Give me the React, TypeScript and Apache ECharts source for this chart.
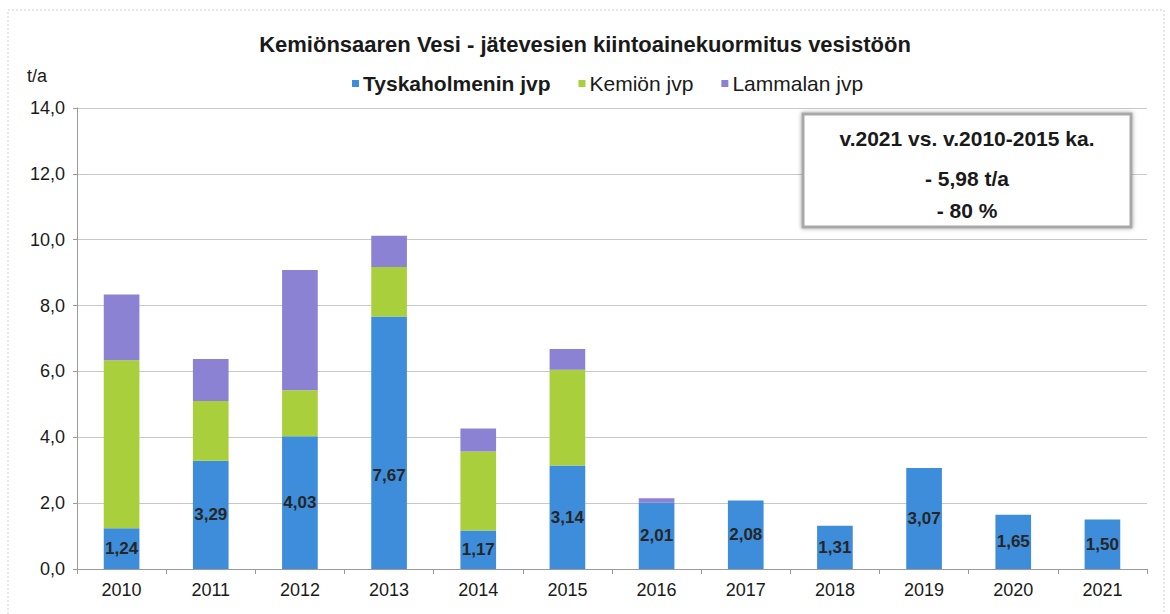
import React, { useEffect, useRef } from "react";
import * as echarts from "echarts";

const years = ["2010", "2011", "2012", "2013", "2014", "2015", "2016", "2017", "2018", "2019", "2020", "2021"];
const tyskaholmen = [1.24, 3.29, 4.03, 7.67, 1.17, 3.14, 2.01, 2.08, 1.31, 3.07, 1.65, 1.5];
const kemio = [5.1, 1.81, 1.4, 1.5, 2.4, 2.91, 0, 0, 0, 0, 0, 0];
const lammala = [2.0, 1.28, 3.65, 0.95, 0.7, 0.63, 0.14, 0, 0, 0, 0, 0];
const seriesNames = ["Tyskaholmenin jvp", "Kemiön jvp", "Lammalan jvp"];
const titleText = "Kemiönsaaren Vesi - jätevesien kiintoainekuormitus vesistöön";
const unitText = "t/a";
const boxLines = ["v.2021 vs. v.2010-2015 ka.", "- 5,98 t/a", "- 80 %"];

const FONT = "'Liberation Sans', Arial, sans-serif";
const fmt = (v: number) => v.toFixed(2).replace(".", ",");

export default function App() {
  const ref = useRef<HTMLDivElement>(null);
  useEffect(() => {
    if (!ref.current) return;
    const chart = echarts.init(ref.current, null, { renderer: "svg" });
    const labelBase = {
      show: true,
      position: "inside" as const,
      color: "#262626",
      fontWeight: "bold" as const,
      fontSize: 17,
      fontFamily: FONT,
      formatter: (p: any) => fmt(p.value),
    };
    chart.setOption({
      animation: false,
      backgroundColor: "#ffffff",
      title: {
        text: titleText,
        left: "center",
        top: 28,
        textStyle: { fontFamily: FONT, fontSize: 22, fontWeight: "bold", color: "#1a1a1a" },
      },
      legend: {
        top: 68,
        left: 347,
        itemWidth: 7,
        itemHeight: 7,
        itemGap: 28,
        icon: "rect",
        textStyle: { fontFamily: FONT, fontSize: 21, color: "#1a1a1a", padding: [0, 0, 0, -1] },
        data: [
          { name: seriesNames[0], textStyle: { fontWeight: "bold" } },
          { name: seriesNames[1] },
          { name: seriesNames[2] },
        ],
      },
      grid: { left: 77, right: 23, top: 108, bottom: 45 },
      xAxis: {
        type: "category",
        data: years,
        axisLine: { lineStyle: { color: "#9a9a9a" } },
        axisTick: { show: true, length: 5, lineStyle: { color: "#9a9a9a" } },
        axisLabel: { fontFamily: FONT, fontSize: 18, color: "#1a1a1a", margin: 12 },
      },
      yAxis: {
        type: "value",
        min: 0,
        max: 14,
        interval: 2,
        axisLine: { show: true, lineStyle: { color: "#9a9a9a" } },
        axisTick: { show: true, length: 4, lineStyle: { color: "#9a9a9a" } },
        axisLabel: {
          fontFamily: FONT,
          fontSize: 18,
          color: "#1a1a1a",
          margin: 12,
          formatter: (v: number) => v.toFixed(1).replace(".", ","),
        },
        splitLine: { lineStyle: { color: "#c8c8c8" } },
      },
      series: [
        {
          name: seriesNames[0],
          type: "bar",
          stack: "total",
          barWidth: "40%",
          itemStyle: { color: "#3e8dda" },
          label: labelBase,
          data: tyskaholmen.map((v) =>
            v === 7.67 ? { value: v, label: { offset: [0, 33] } } : v
          ),
        },
        {
          name: seriesNames[1],
          type: "bar",
          stack: "total",
          barWidth: "40%",
          itemStyle: { color: "#a9cf3d" },
          data: kemio,
        },
        {
          name: seriesNames[2],
          type: "bar",
          stack: "total",
          barWidth: "40%",
          itemStyle: { color: "#8c82d3" },
          data: lammala,
        },
      ],
      graphic: [
        {
          type: "rect",
          shape: { x: 8, y: 10, width: 1156, height: 620 },
          style: { fill: "none", stroke: "#cfcfcf", lineWidth: 1, lineDash: [2, 2] },
          silent: true,
        },
        {
          type: "text",
          left: 27,
          top: 67,
          style: { text: unitText, font: `18px ${FONT}`, fill: "#1a1a1a" },
        },
        {
          type: "rect",
          shape: { x: 803, y: 114, width: 328, height: 113 },
          style: {
            fill: "#ffffff",
            stroke: "#a8a8a8",
            lineWidth: 3,
            shadowBlur: 4,
            shadowColor: "rgba(0,0,0,0.35)",
          },
          z: 10,
        },
        ...boxLines.map((t, i) => ({
          type: "text",
          x: 967,
          y: [138, 178, 210][i],
          z: 11,
          style: {
            text: t,
            font: `bold 21px ${FONT}`,
            fill: "#1a1a1a",
            align: "center",
            verticalAlign: "middle",
          },
        })),
      ],
    });
    return () => chart.dispose();
  }, []);
  return <div ref={ref} style={{ position: "fixed", left: 0, top: 0, width: 1170, height: 614 }} />;
}
